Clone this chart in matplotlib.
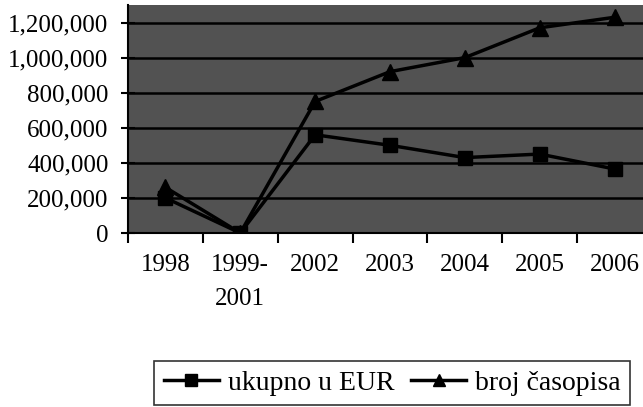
import numpy as np
import matplotlib.pyplot as plt

# podaci (očitano sa slike)
godine = ['1998', '1999-\n2001', '2002', '2003', '2004', '2005', '2006']
ukupno_eur = [200000, 0, 560000, 500000, 430000, 450000, 365000]
broj_casopisa = [260000, 0, 750000, 920000, 1000000, 1170000, 1230000]

plt.rcParams['font.family'] = ['Liberation Serif', 'DejaVu Serif']

fig = plt.figure(figsize=(6.43, 4.07), dpi=100)
ax = fig.add_axes([128 / 643, 174 / 407, 524 / 643, 228 / 407])
ax.set_facecolor('#525252')

x = np.arange(len(godine))
ax.plot(x, ukupno_eur, color='black', lw=2.5, marker='s', ms=10, label='ukupno u EUR', zorder=3)
ax.plot(x, broj_casopisa, color='black', lw=2.5, marker='^', ms=11, label='broj časopisa', zorder=3)

ax.set_xlim(-0.5, len(godine) - 0.5)
ax.set_ylim(0, 1300000)
ax.set_yticks(np.arange(0, 1200001, 200000))
ax.yaxis.set_major_formatter(plt.FuncFormatter(lambda v, p: f'{int(v):,}'))
ax.grid(axis='y', color='black', lw=1.8, zorder=1)
ax.set_axisbelow(True)

# kvačice između kategorija, natpisi u sredini
ax.set_xticks(np.arange(-0.5, len(godine), 1.0))
ax.set_xticklabels([])
ax.set_xticks(x, minor=True)
ax.set_xticklabels(godine, minor=True, fontsize=18, linespacing=1.7, va='top')
ax.tick_params(axis='x', which='minor', length=0, pad=15)
ax.tick_params(axis='x', which='major', direction='out', length=7, width=1.5)
ax.tick_params(axis='y', direction='inout', length=10, width=1.5, labelsize=18, pad=9)

for s in ['top', 'right']:
    ax.spines[s].set_visible(False)
for s in ['left', 'bottom']:
    ax.spines[s].set_linewidth(1.5)

leg = fig.legend(loc='center', bbox_to_anchor=(392 / 643, 1 - 383 / 407), ncol=2,
                 fontsize=20, frameon=True, fancybox=False, edgecolor='black',
                 handlelength=2.0, handletextpad=0.3, columnspacing=0.6,
                 borderpad=0.35, markerscale=0.8)
leg.get_frame().set_linewidth(1.2)

fig.savefig('out.png', dpi=100)
